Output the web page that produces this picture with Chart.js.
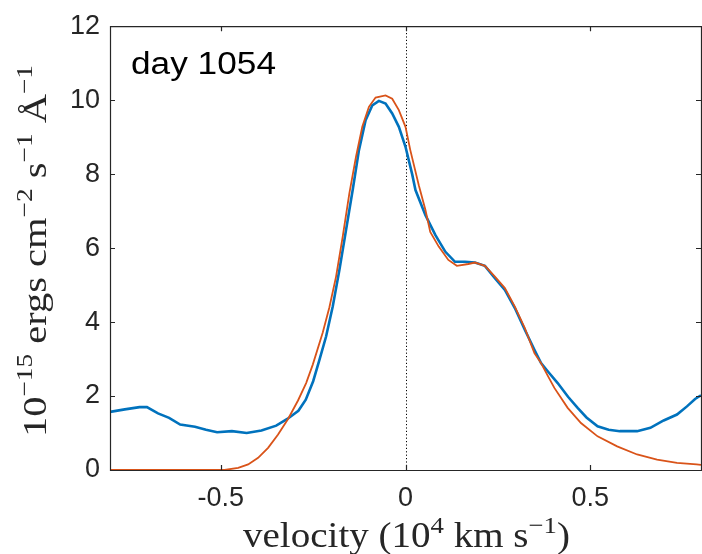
<!DOCTYPE html>
<html>
<head>
<meta charset="utf-8">
<script src="https://cdn.jsdelivr.net/npm/chart.js@4"></script>
<style>
html,body{margin:0;padding:0;background:#fff;}
#wrap{width:702px;height:554px;}
</style>
</head>
<body>
<div id="wrap"><canvas id="c" width="702" height="554"></canvas></div>
<script>
// ---- data (velocity in 10^4 km/s, flux in 1e-15 erg cm^-2 s^-1 A^-1) ----
const obsVelocity = [-0.80,-0.76,-0.72,-0.70,-0.67,-0.64,-0.61,-0.57,-0.54,-0.51,-0.47,-0.43,-0.39,-0.35,-0.32,-0.29,-0.27,-0.25,-0.233,-0.215,-0.197,-0.179,-0.161,-0.143,-0.126,-0.108,-0.09,-0.072,-0.054,-0.036,-0.018,0,0.018,0.027,0.054,0.081,0.108,0.134,0.161,0.188,0.215,0.242,0.269,0.296,0.323,0.349,0.367,0.385,0.412,0.44,0.466,0.49,0.52,0.55,0.58,0.627,0.663,0.699,0.735,0.762,0.784,0.80];
const obsFlux     = [1.57,1.64,1.70,1.70,1.53,1.41,1.23,1.17,1.09,1.02,1.05,1.00,1.07,1.20,1.38,1.60,1.90,2.40,2.98,3.61,4.42,5.41,6.49,7.57,8.65,9.46,9.86,9.98,9.91,9.64,9.28,8.74,8.00,7.57,6.89,6.35,5.90,5.63,5.63,5.61,5.52,5.19,4.87,4.38,3.79,3.25,2.89,2.67,2.35,1.98,1.68,1.42,1.18,1.09,1.05,1.05,1.14,1.34,1.50,1.72,1.92,2.02];
const modelVelocity = [-0.80,-0.49,-0.453,-0.426,-0.399,-0.372,-0.345,-0.318,-0.291,-0.269,-0.251,-0.224,-0.206,-0.188,-0.170,-0.152,-0.134,-0.117,-0.099,-0.081,-0.054,-0.036,-0.018,0,0.013,0.036,0.054,0.067,0.09,0.116,0.139,0.17,0.188,0.215,0.242,0.269,0.296,0.323,0.349,0.367,0.385,0.403,0.439,0.475,0.52,0.573,0.627,0.681,0.735,0.788,0.80];
const modelFlux     = [0,0,0.06,0.15,0.33,0.60,0.96,1.38,1.88,2.35,2.85,3.72,4.40,5.23,6.31,7.48,8.47,9.28,9.82,10.07,10.13,10.04,9.73,9.28,8.65,7.70,7.03,6.44,6.04,5.68,5.52,5.57,5.61,5.52,5.23,4.92,4.42,3.84,3.16,2.89,2.55,2.22,1.68,1.27,0.91,0.64,0.42,0.28,0.19,0.15,0.14];
const xTickValues = [-0.5, 0, 0.5];
const yTickValues = [0, 2, 4, 6, 8, 10, 12];
const panelLabel = "day 1054";

const AXIS = '#262626';
const toPts = (xs, ys) => xs.map((x, i) => ({x: x, y: ys[i]}));

// draw rich text (base + superscript pieces) fitted to a given length
function richText(ctx, pieces, family, size, supSize, raise, targetLen) {
  let total = 0;
  for (const p of pieces) {
    ctx.font = (p.sup ? supSize : size) + 'px ' + family;
    p.w = ctx.measureText(p.t).width;
    total += p.w;
  }
  const sx = targetLen / total;
  ctx.save();
  ctx.scale(sx, 1);
  let x = -total / 2;
  for (const p of pieces) {
    ctx.font = (p.sup ? supSize : size) + 'px ' + family;
    ctx.fillText(p.t, x, p.sup ? -raise : 0);
    x += p.w;
  }
  ctx.restore();
}

const framePlugin = {
  id: 'frame',
  beforeDatasetsDraw(chart) {
    const {ctx, chartArea: a, scales} = chart;
    const x0 = scales.x.getPixelForValue(0);
    ctx.save();
    ctx.strokeStyle = '#000';
    ctx.lineWidth = 1;
    ctx.setLineDash([1.2, 2.2]);
    ctx.beginPath();
    ctx.moveTo(Math.round(x0) + 0.5, a.top);
    ctx.lineTo(Math.round(x0) + 0.5, a.bottom);
    ctx.stroke();
    ctx.restore();
  },
  afterDraw(chart) {
    const {ctx, chartArea: a, scales} = chart;
    ctx.save();
    ctx.strokeStyle = AXIS;
    ctx.lineWidth = 1.2;
    ctx.beginPath();
    ctx.rect(a.left + 0.5, a.top + 0.5, a.right - a.left, a.bottom - a.top);
    ctx.stroke();
    const tl = 5;
    ctx.beginPath();
    for (const v of xTickValues) {
      const px = Math.round(scales.x.getPixelForValue(v)) + 0.5;
      ctx.moveTo(px, a.bottom); ctx.lineTo(px, a.bottom - tl);
      ctx.moveTo(px, a.top); ctx.lineTo(px, a.top + tl);
    }
    for (const v of yTickValues) {
      const py = Math.round(scales.y.getPixelForValue(v)) + 0.5;
      ctx.moveTo(a.left, py); ctx.lineTo(a.left + tl, py);
      ctx.moveTo(a.right, py); ctx.lineTo(a.right - tl, py);
    }
    ctx.stroke();

    // panel label
    ctx.fillStyle = '#000';
    ctx.textBaseline = 'alphabetic';
    ctx.textAlign = 'left';
    ctx.save();
    ctx.translate(131, 74);
    ctx.font = '31px "Liberation Sans", Arial, sans-serif';
    const w = ctx.measureText(panelLabel).width;
    ctx.scale(145 / w, 1);
    ctx.fillText(panelLabel, 0, 0);
    ctx.restore();

    // x axis title
    ctx.fillStyle = AXIS;
    ctx.save();
    ctx.translate(406.5, 547);
    richText(ctx, [
      {t: 'velocity (10'}, {t: '4', sup: true}, {t: ' km s'}, {t: '\u22121', sup: true}, {t: ')'}
    ], '"Liberation Serif", serif', 35, 24, 14, 327);
    ctx.restore();

    // y axis title
    ctx.save();
    ctx.translate(46, 251);
    ctx.rotate(-Math.PI / 2);
    richText(ctx, [
      {t: '10'}, {t: '\u221215', sup: true}, {t: ' ergs cm'}, {t: '\u22122', sup: true},
      {t: ' s'}, {t: '\u22121', sup: true}, {t: ' \u00C5'}, {t: '\u22121', sup: true}
    ], '"Liberation Serif", serif', 34, 23, 14, 372);
    ctx.restore();
    ctx.restore();
  }
};

new Chart(document.getElementById('c'), {
  type: 'scatter',
  data: {
    datasets: [
      {
        label: 'model',
        data: toPts(modelVelocity, modelFlux),
        showLine: true,
        borderColor: '#D95319',
        borderWidth: 1.8,
        pointRadius: 0,
        tension: 0,
        fill: false
      },
      {
        label: 'observed',
        data: toPts(obsVelocity, obsFlux),
        showLine: true,
        borderColor: '#0072BD',
        borderWidth: 2.6,
        pointRadius: 0,
        tension: 0,
        fill: false
      }
    ]
  },
  options: {
    responsive: false,
    animation: false,
    devicePixelRatio: 1,
    layout: {padding: {top: 26, right: 1, left: 0, bottom: 0}},
    plugins: {legend: {display: false}, tooltip: {enabled: false}},
    scales: {
      x: {
        type: 'linear',
        min: -0.8, max: 0.8,
        grid: {display: false, drawTicks: false},
        border: {display: false},
        afterBuildTicks: s => { s.ticks = xTickValues.map(v => ({value: v})); },
        afterFit: s => { s.height = 84; },
        ticks: {
          padding: 12,
          color: AXIS,
          font: {family: '"Liberation Sans", Arial, sans-serif', size: 27},
          callback: v => (v === 0 ? '0' : String(v))
        }
      },
      y: {
        type: 'linear',
        min: 0, max: 12,
        grid: {display: false, drawTicks: false},
        border: {display: false},
        afterBuildTicks: s => { s.ticks = yTickValues.map(v => ({value: v})); },
        afterFit: s => { s.width = 110; },
        ticks: {
          padding: 10,
          color: AXIS,
          font: {family: '"Liberation Sans", Arial, sans-serif', size: 27}
        }
      }
    }
  },
  plugins: [framePlugin]
});
</script>
</body>
</html>
